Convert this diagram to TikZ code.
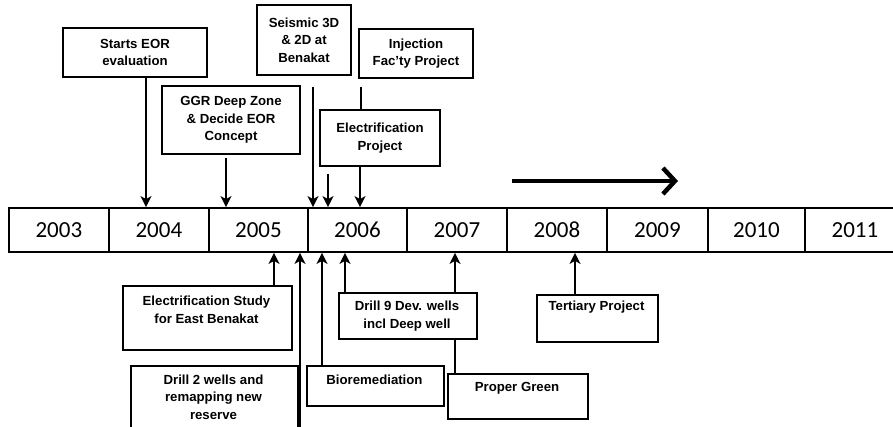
\documentclass[tikz,border=0pt]{standalone}
\usepackage{fontspec}
\setmainfont{Liberation Sans}
\newfontfamily\yearfont{Carlito}
\usetikzlibrary{arrows.meta}
\begin{document}
\begin{tikzpicture}[x=1pt,y=-1pt,
  box/.style={draw, line width=1.6pt, inner sep=0pt, fill=white},
  txt/.style={align=center, font=\bfseries\fontsize{13.2}{17.5}\selectfont, inner sep=0pt},
  yearcell/.style={draw, line width=1.8pt, inner sep=0pt, minimum height=44pt, anchor=west,
     font=\yearfont\fontsize{23}{26}\selectfont},
  arr/.style={line width=2.8pt, -{Stealth[length=11pt,width=11pt,inset=3pt]}},
  plain/.style={line width=2.8pt}
]
\useasboundingbox (0,0) rectangle (893,427);
\fill[white] (0,0) rectangle (893,427);

% timeline bar
\node[yearcell, minimum width=100pt] (y2003) at (8,230) {2003};
\node[yearcell, minimum width=100pt] (y2004) at (108,230) {2004};
\node[yearcell, minimum width=99pt]  (y2005) at (208,230) {2005};
\node[yearcell, minimum width=99pt]  (y2006) at (307,230) {2006};
\node[yearcell, minimum width=100pt] (y2007) at (406,230) {2007};
\node[yearcell, minimum width=100pt] (y2008) at (506,230) {2008};
\node[yearcell, minimum width=101pt] (y2009) at (606,230) {2009};
\node[yearcell, minimum width=97pt]  (y2010) at (707,230) {2010};
\node[yearcell, minimum width=100pt] (y2011) at (804,230) {2011};

% big arrow
\coordinate (ba) at (512,181);
\coordinate (bb) at (678,181);
\draw[line width=4pt, -{Straight Barb[length=12pt,width=26pt,line width=4.5pt]}] (ba) -- (bb);

% top boxes
\node[box, minimum width=144pt, minimum height=49pt] (starts) at (135,52.5) {};
\node[txt] (startsT) at (starts) {Starts EOR\\evaluation};

\node[box, minimum width=138pt, minimum height=68pt] (ggr) at (231,120) {};
\node[txt] (ggrT) at (ggr) {GGR Deep Zone\\\&~Decide EOR\\Concept};

\node[box, minimum width=94pt, minimum height=70pt] (seis) at (304,40) {};
\node[txt] (seisT) at (seis) {Seismic 3D\\\&~2D at\\Benakat};

\node[box, minimum width=114pt, minimum height=49pt] (inj) at (416,53.5) {};
\node[txt] (injT) at (inj) {Injection\\Fac'ty Project};

\node[box, minimum width=120pt, minimum height=56pt] (elecp) at (380,138) {};
\node[txt] (elecpT) at (elecp) {Electrification\\Project};

% bottom boxes
\node[box, minimum width=169pt, minimum height=64pt, anchor=north west] (elecs) at (122,285) {};
\node[txt] (elecsT) at (206.5,310) {Electrification Study\\for East Benakat};

\node[box, minimum width=167pt, minimum height=80pt, anchor=north west] (drill2) at (130,365) {};
\node[txt] (drill2T) at (213.5,397) {Drill 2 wells and\\remapping new\\reserve};

\node[box, minimum width=137pt, minimum height=40pt, anchor=north west] (bio) at (306,365) {};
\node[txt] (bioT) at (374.5,380) {Bioremediation};

\node[box, minimum width=138pt, minimum height=46pt, anchor=north west] (drill9) at (338,292) {};
\node[txt] (drill9T) at (407,316) {Drill 9 Dev. wells\\incl Deep well};

\node[box, minimum width=140pt, minimum height=45pt, anchor=north west] (proper) at (447,373) {};
\node[txt] (properT) at (517,388) {Proper Green};

\node[box, minimum width=121pt, minimum height=47pt, anchor=north west] (tert) at (536,294) {};
\node[txt] (tertT) at (596.5,307) {Tertiary Project};

% top arrows
\draw[arr] (146,0 |- starts.south) -- (146,0 |- y2004.north);
\coordinate (g0) at (226,158);
\draw[arr] (g0) -- (226,0 |- y2005.north);
\coordinate (s0) at (313,87);
\draw[arr] (s0) -- (313,0 |- y2006.north);
\coordinate (k0) at (328,174);
\draw[arr] (k0) -- (328,0 |- y2006.north);
\coordinate (i0) at (361,87);
\draw[plain] (i0) -- (361,0 |- elecp.north);
\draw[arr] (360,0 |- elecp.south) -- (360,0 |- y2006.north);

% bottom arrows
\draw[arr] (274,0 |- elecs.north) -- (274,0 |- y2005.south);
\coordinate (d0) at (300,440);
\draw[arr] (d0) -- (300,0 |- y2005.south);
\draw[arr] (322,0 |- bio.north) -- (322,0 |- y2006.south);
\draw[arr] (345,0 |- drill9.north) -- (345,0 |- y2006.south);
\draw[plain] (455,0 |- proper.north) -- (455,0 |- drill9.south);
\draw[arr] (455,0 |- drill9.north) -- (455,0 |- y2007.south);
\draw[arr] (575,0 |- tert.north) -- (575,0 |- y2008.south);
\end{tikzpicture}
\end{document}
